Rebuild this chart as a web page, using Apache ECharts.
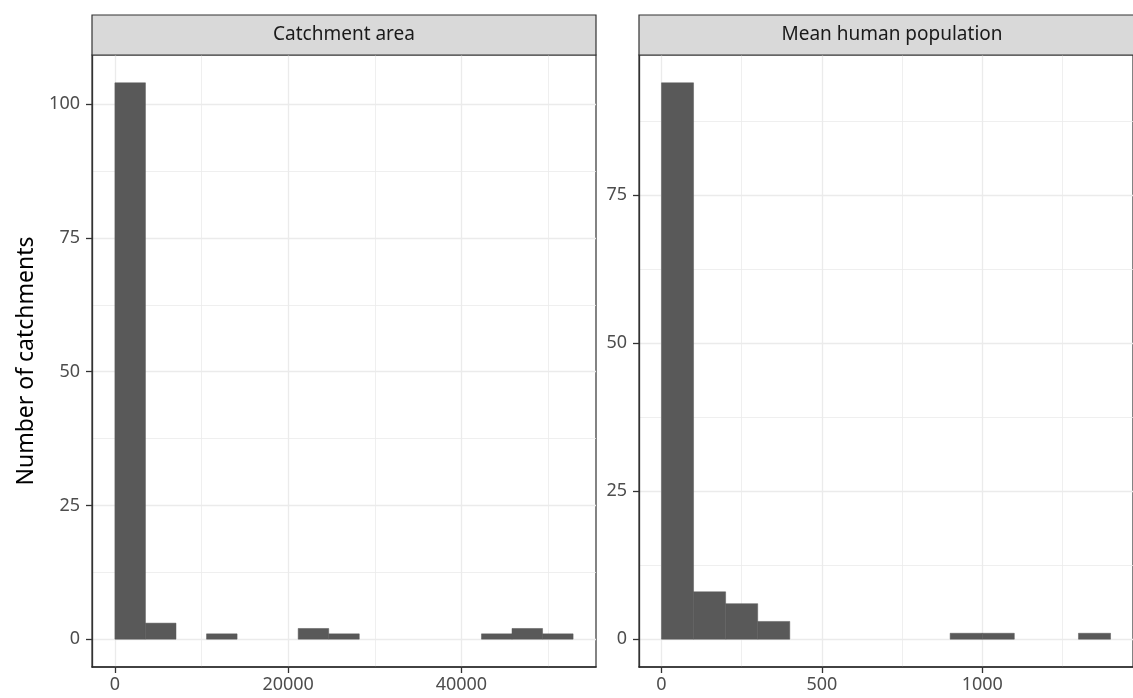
<!DOCTYPE html>
<html>
<head>
<meta charset="utf-8">
<script src="https://cdn.jsdelivr.net/npm/echarts@6/dist/echarts.min.js"></script>
<style>
html, body { margin: 0; padding: 0; background: #fff; }
#main { width: 1133px; height: 698px; }
</style>
</head>
<body>
<div id="main"></div>
<script>
var myChart = echarts.init(document.getElementById('main'));

// histogram bins
var areaEdges = [0, 3526, 7052, 10578, 14104, 17630, 21156, 24682, 28208, 31734, 35260, 38786, 42312, 45838, 49364, 52890];
var areaCounts = [104, 3, 0, 1, 0, 0, 2, 1, 0, 0, 0, 0, 1, 2, 1];

var popEdges = [0, 100, 200, 300, 400, 500, 600, 700, 800, 900, 1000, 1100, 1200, 1300, 1400];
var popCounts = [94, 8, 6, 3, 0, 0, 0, 0, 0, 1, 1, 0, 0, 1];

var panelTitles = ['Catchment area', 'Mean human population'];
var areaTicks = [0, 20000, 40000];
var areaMinor = [10000, 30000, 50000];
var popTicks = [0, 500, 1000];
var popMinor = [250, 750, 1250];
var areaYTicks = [0, 25, 50, 75, 100];
var popYTicks = [0, 25, 50, 75];
var yMinor = [12.5, 37.5, 62.5, 87.5];

function toBins(edges, counts) {
    var out = [];
    for (var i = 0; i < counts.length; i++) {
        out.push([edges[i], edges[i + 1], counts[i]]);
    }
    return out;
}

function renderItem(params, api) {
    if (!api.value(2)) return null;
    var p0 = api.coord([api.value(0), 0]);
    var p1 = api.coord([api.value(1), api.value(2)]);
    return {
        type: 'rect',
        shape: { x: p0[0], y: p1[1], width: p1[0] - p0[0], height: p0[1] - p1[1] },
        style: { fill: '#595959', stroke: '#595959', lineWidth: 0.5 }
    };
}

var fontFam = 'Noto Sans';
var gridLine = '#ebebeb';
var plain = function (v) { return String(v); };

function mainX(gi, min, max, ticks) {
    return {
        type: 'value', gridIndex: gi, min: min, max: max, position: 'bottom',
        axisLine: { show: true, onZero: false, lineStyle: { color: '#262626', width: 1.6 } },
        axisTick: { show: true, length: 6, customValues: ticks, lineStyle: { color: '#333', width: 1.3 } },
        axisLabel: { customValues: ticks, formatter: plain, color: '#4d4d4d', fontSize: 18, fontFamily: fontFam, margin: 9 },
        splitLine: { show: true, lineStyle: { color: gridLine, width: 1.3 } }
    };
}
function minorX(gi, min, max, ticks) {
    return {
        type: 'value', gridIndex: gi, min: min, max: max, position: 'top',
        axisLine: { show: false, onZero: false }, axisLabel: { show: false },
        axisTick: { show: false, customValues: ticks },
        splitLine: { show: true, lineStyle: { color: gridLine, width: 0.8 } }
    };
}
function mainY(gi, min, max, ticks) {
    return {
        type: 'value', gridIndex: gi, min: min, max: max, position: 'left',
        axisLine: { show: true, onZero: false, lineStyle: { color: '#333', width: 1.3 } },
        axisTick: { show: true, length: 6, customValues: ticks, lineStyle: { color: '#333', width: 1.3 } },
        axisLabel: { customValues: ticks, formatter: plain, color: '#4d4d4d', fontSize: 18, fontFamily: fontFam, margin: 12 },
        splitLine: { show: true, lineStyle: { color: gridLine, width: 1.3 } }
    };
}
function minorY(gi, min, max, ticks) {
    return {
        type: 'value', gridIndex: gi, min: min, max: max, position: 'right',
        axisLine: { show: false, onZero: false }, axisLabel: { show: false },
        axisTick: { show: false, customValues: ticks },
        splitLine: { show: true, lineStyle: { color: gridLine, width: 0.8 } }
    };
}

var yLeft = mainY(0, -5.2, 109.2, areaYTicks);
yLeft.name = 'Number of catchments';
yLeft.nameLocation = 'middle';
yLeft.nameGap = 54;
yLeft.nameTextStyle = { color: '#000', fontSize: 23, fontFamily: fontFam };

var option = {
    backgroundColor: '#fff',
    animation: false,
    grid: [
        { left: 92, top: 55, width: 504, height: 612, show: true, backgroundColor: '#fff', borderColor: '#333', borderWidth: 1.2 },
        { left: 639, top: 55, width: 506, height: 612, show: true, backgroundColor: '#fff', borderColor: '#333', borderWidth: 1.2 }
    ],
    xAxis: [
        mainX(0, -2644, 55534, areaTicks),
        mainX(1, -70, 1470, popTicks),
        minorX(0, -2644, 55534, areaMinor),
        minorX(1, -70, 1470, popMinor)
    ],
    yAxis: [
        yLeft,
        mainY(1, -4.7, 98.7, popYTicks),
        minorY(0, -5.2, 109.2, yMinor),
        minorY(1, -4.7, 98.7, yMinor)
    ],
    graphic: [
        { type: 'rect', shape: { x: 92, y: 15, width: 504, height: 40 }, style: { fill: '#d9d9d9', stroke: '#333', lineWidth: 1.2 }, z: 10 },
        { type: 'text', x: 344, y: 35, style: { text: panelTitles[0], fill: '#1a1a1a', font: '19px "Noto Sans"', align: 'center', verticalAlign: 'middle' }, z: 11 },
        { type: 'rect', shape: { x: 639, y: 15, width: 506, height: 40 }, style: { fill: '#d9d9d9', stroke: '#333', lineWidth: 1.2 }, z: 10 },
        { type: 'text', x: 892, y: 35, style: { text: panelTitles[1], fill: '#1a1a1a', font: '19px "Noto Sans"', align: 'center', verticalAlign: 'middle' }, z: 11 }
    ],
    series: [
        { type: 'custom', xAxisIndex: 0, yAxisIndex: 0, renderItem: renderItem, encode: { x: [0, 1], y: 2 }, data: toBins(areaEdges, areaCounts) },
        { type: 'custom', xAxisIndex: 1, yAxisIndex: 1, renderItem: renderItem, encode: { x: [0, 1], y: 2 }, data: toBins(popEdges, popCounts) }
    ]
};
myChart.setOption(option);
</script>
</body>
</html>
